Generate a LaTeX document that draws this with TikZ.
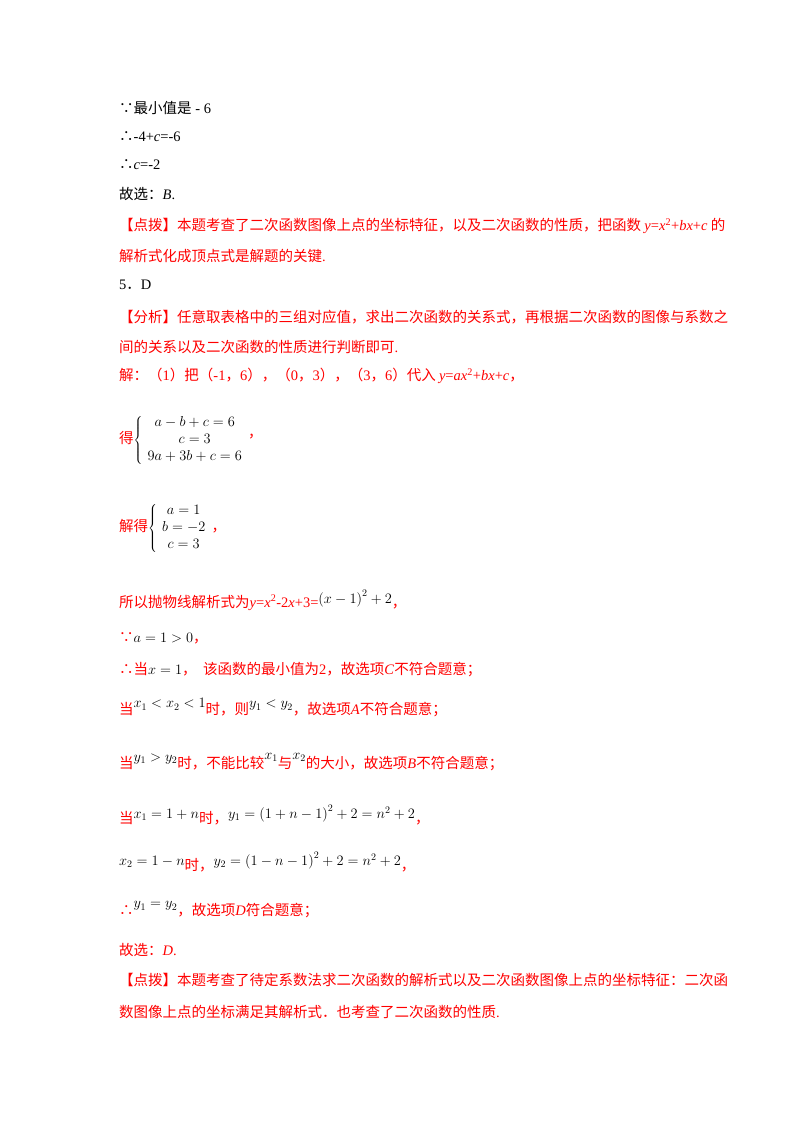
\documentclass[tikz,border=0pt]{standalone}
\usepackage{fontspec}
\setmainfont{Liberation Serif}
\newfontfamily\cjk{Noto Sans CJK SC}
\newcommand\rd[1]{\textcolor{red}{#1}}
\newcommand\bk[1]{\textcolor{black}{#1}}
\newcommand\tr[1]{\textrm{#1}}
\newcommand\ti[1]{\textrm{\textit{#1}}}
\tikzset{ln/.style={anchor=west,inner sep=0pt,font=\cjk\fontsize{14.5}{17}\selectfont},
red/.style={ln,text=red}}
\begin{document}
\begin{tikzpicture}[x=1pt,y=-1pt]
\useasboundingbox[fill=white] (0,0) rectangle (800,1132);
\node[ln] (l1) at (119,108) {∵最小值是\tr{ - 6}};
\node[ln] (l2) at (119,137) {∴\tr{-4+}\ti{c}\tr{=-6}};
\node[ln] (l3) at (119,165) {∴\ti{c}\tr{=-2}};
\node[ln] (l4) at (119,194) {故选：\ti{B}\tr{.}};
\node[red] (l5) at (119,226) {【点拨】本题考查了二次函数图像上点的坐标特征，以及二次函数的性质，把函数 \ti{y}\tr{=}\ti{x}\tr{\textsuperscript{2}+}\ti{bx}\tr{+}\ti{c} 的};
\node[red] (l6) at (119,256) {解析式化成顶点式是解题的关键\tr{.}};
\node[ln] (l7) at (119,285) {\tr{5}．\tr{D}};
\node[red] (l8) at (119,317) {【分析】任意取表格中的三组对应值，求出二次函数的关系式，再根据二次函数的图像与系数之};
\node[red] (l9) at (119,347) {间的关系以及二次函数的性质进行判断即可\tr{.}};
\node[red] (l10) at (119,376) {解：（\tr{1}）把（\tr{-1}，\tr{6}），（\tr{0}，\tr{3}），（\tr{3}，\tr{6}）代入 \ti{y}\tr{=}\ti{ax}\tr{\textsuperscript{2}+}\ti{bx}\tr{+}\ti{c}，};
\node[red] (l11) at (119,440) {得\bk{$\left\{\begin{array}{c}a-b+c=6\\ c=3\\ 9a+3b+c=6\end{array}\right.$}\raisebox{6pt}{，}};
\node[red] (l12) at (119,528) {解得\bk{$\left\{\begin{array}{c}a=1\\ b=-2\\ c=3\end{array}\right.$}，};
\node[red] (l13) at (119,600) {所以抛物线解析式为\ti{y}\tr{=}\ti{x}\tr{\textsuperscript{2}-2}\ti{x}\tr{+3=}\raisebox{4pt}{\bk{$\left(x-1\right)^2+2$}}，};
\node[red] (l14) at (119,638) {∵\bk{$a=1>0$}，};
\node[red] (l15) at (119,670) {∴当\bk{$x=1$}，\ \ 该函数的最小值为\tr{2}，故选项\ti{C}不符合题意；};
\node[red] (l16) at (119,708) {当\raisebox{7pt}{\bk{$x_1<x_2<1$}}时，则\raisebox{7pt}{\bk{$y_1<y_2$}}，故选项\ti{A}不符合题意；};
\node[red] (l17) at (119,762) {当\raisebox{7pt}{\bk{$y_1>y_2$}}时，不能比较\raisebox{9pt}{\bk{$x_1$}}与\raisebox{9pt}{\bk{$x_2$}}的大小，故选项\ti{B}不符合题意；};
\node[red] (l18) at (119,815) {当\raisebox{5pt}{\bk{$x_1=1+n$}}时，\raisebox{5pt}{\bk{$y_1=\left(1+n-1\right)^2+2=n^2+2$}}，};
\node[red] (l19) at (119,862) {\raisebox{5pt}{\bk{$x_2=1-n$}}时，\raisebox{5pt}{\bk{$y_2=\left(1-n-1\right)^2+2=n^2+2$}}，};
\node[red] (l20) at (119,910) {∴\raisebox{8pt}{\bk{$y_1=y_2$}}，故选项\ti{D}符合题意；};
\node[red] (l21) at (119,950) {故选：\ti{D}\tr{.}};
\node[red] (l22) at (119,980) {【点拨】本题考查了待定系数法求二次函数的解析式以及二次函数图像上点的坐标特征：二次函};
\node[red] (l23) at (119,1012) {数图像上点的坐标满足其解析式．也考查了二次函数的性质\tr{.}};
\end{tikzpicture}
\end{document}
